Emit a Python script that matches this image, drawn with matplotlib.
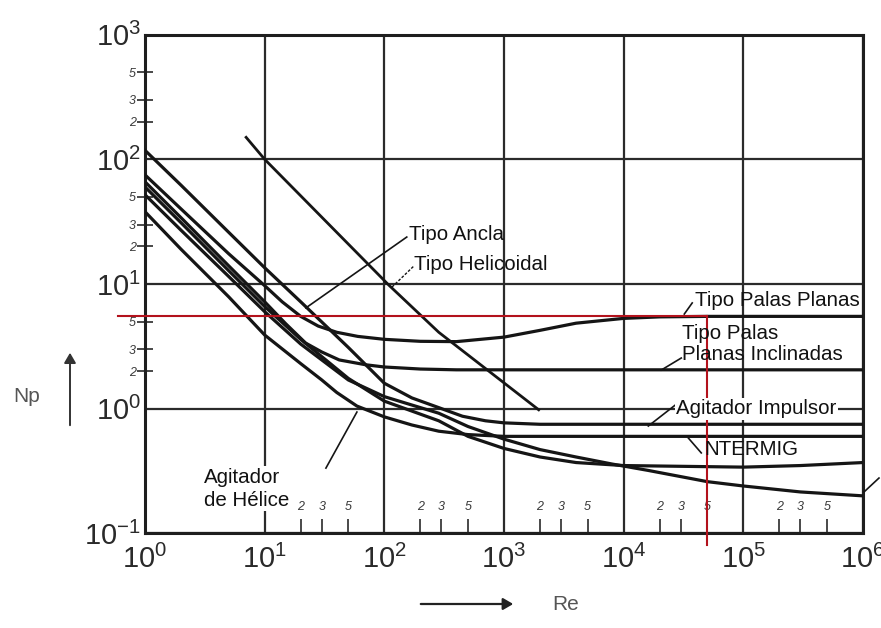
import matplotlib
matplotlib.use("Agg")
import matplotlib.pyplot as plt
from matplotlib import font_manager

# ---------------- data ----------------
# Power number Np versus Reynolds number Re for several impeller types
re_ancla = [1, 2, 5, 10, 20, 50, 100, 170, 285, 450, 700, 1000, 2000, 1e6]
np_ancla = [118, 62, 26, 13.5, 7.2, 3.1, 1.6, 1.22, 1.02, 0.87, 0.8, 0.77, 0.75, 0.75]

re_palas = [1, 2, 5, 10, 14, 20, 28, 40, 60, 100, 200, 400, 1000, 2000, 4000, 1e4, 2e4, 5e4, 1e6]
np_palas = [75, 40, 17.5, 9.7, 7.2, 5.5, 4.6, 4.1, 3.8, 3.6, 3.47, 3.45, 3.75, 4.25, 4.85,
            5.3, 5.45, 5.5, 5.5]

re_inclin = [1, 2, 5, 10, 15, 22, 30, 42, 70, 100, 200, 400, 1e6]
np_inclin = [66, 34, 14, 7.2, 4.8, 3.36, 2.85, 2.46, 2.25, 2.16, 2.08, 2.05, 2.05]

re_impulsor = [1, 2, 5, 10, 20, 30, 40, 59, 100, 170, 285, 500, 1000, 1e6]
np_impulsor = [38, 19, 7.9, 3.9, 2.3, 1.7, 1.35, 1.05, 0.86, 0.74, 0.66, 0.62, 0.6, 0.6]

re_intermig = [1, 2, 5, 10, 20, 50, 100, 285, 500, 1000, 2000, 4000, 1e4, 1e5, 3e5, 1e6]
np_intermig = [60, 31, 12.8, 6.6, 3.6, 1.75, 1.15, 0.8, 0.6, 0.48, 0.41, 0.37, 0.35, 0.34,
               0.35, 0.37]

re_helice = [1, 2, 5, 10, 20, 50, 100, 285, 500, 1000, 2000, 4000, 8000, 1.6e4, 5e4, 1e5,
             3e5, 1e6]
np_helice = [52, 27, 11.5, 6.0, 3.3, 1.7, 1.25, 0.92, 0.72, 0.57, 0.47, 0.41, 0.36, 0.32,
             0.26, 0.24, 0.215, 0.2]

re_helicoidal = [7, 10, 109, 285, 1950]
np_helicoidal = [150, 100, 9.8, 4.1, 0.98]

# reading of the operating point
re_read = 5e4
np_read = 5.5
re_read_start = 0.59
np_read_end = 0.081

# axes ticks
x_decades = [1, 10, 100, 1e3, 1e4, 1e5, 1e6]
x_labels = ["$10^{0}$", "$10^{1}$", "$10^{2}$", "$10^{3}$", "$10^{4}$", "$10^{5}$", "$10^{6}$"]
y_decades = [0.1, 1, 10, 100, 1000]
y_labels = ["$10^{-1}$", "$10^{0}$", "$10^{1}$", "$10^{2}$", "$10^{3}$"]
x_minor = [20, 30, 50, 200, 300, 500, 2e3, 3e3, 5e3, 2e4, 3e4, 5e4, 2e5, 3e5, 5e5]
x_minor_labels = ["2", "3", "5"] * 5
y_minor = [2, 3, 5, 20, 30, 50, 200, 300, 500]
y_minor_labels = ["2", "3", "5"] * 3

# ---------------- fonts ----------------
installed = {f.name for f in font_manager.fontManager.ttflist}
num_font = "Liberation Sans Narrow" if "Liberation Sans Narrow" in installed else "Liberation Sans"
plt.rcParams["font.family"] = ["Liberation Sans", "DejaVu Sans"]
plt.rcParams["mathtext.fontset"] = "custom"
plt.rcParams["mathtext.rm"] = num_font
plt.rcParams["mathtext.it"] = num_font
plt.rcParams["mathtext.bf"] = num_font

ink = "#151515"
grid_ink = "#2b2b2b"

fig = plt.figure(figsize=(8.81, 6.28), dpi=100)
ax = fig.add_axes([145 / 881, 1 - 533.4 / 628, 718 / 881, 498.8 / 628])
ax.set_xscale("log")
ax.set_yscale("log")
ax.set_xlim(1, 1e6)
ax.set_ylim(0.1, 1000)

for s in ax.spines.values():
    s.set_linewidth(2.2)
    s.set_color("#1e1e1e")

ax.grid(which="major", color=grid_ink, lw=1.6, zorder=1)
ax.set_axisbelow(True)

# major ticks: labels only
ax.set_xticks(x_decades)
ax.set_xticklabels(x_labels)
ax.set_yticks(y_decades)
ax.set_yticklabels(y_labels)
ax.tick_params(which="major", length=0, labelsize=21, colors="#2a2a2a")
ax.tick_params(axis="x", which="major", pad=8)
ax.tick_params(axis="y", which="major", pad=3)

# minor ticks with small hand-style digits
ax.set_xticks(x_minor, minor=True)
ax.set_xticklabels(x_minor_labels, minor=True, fontstyle="italic")
ax.set_yticks(y_minor, minor=True)
ax.set_yticklabels(y_minor_labels, minor=True, fontstyle="italic")
ax.tick_params(axis="x", which="minor", direction="in", length=10, width=1.3,
               pad=-23, labelsize=9, colors="#3a3a3a")
ax.tick_params(axis="y", which="minor", direction="inout", length=11, width=1.3,
               pad=1, labelsize=9, colors="#3a3a3a")

# curves
curves = [
    (re_ancla, np_ancla),
    (re_palas, np_palas),
    (re_inclin, np_inclin),
    (re_impulsor, np_impulsor),
    (re_intermig, np_intermig),
    (re_helice, np_helice),
]
for rx, ny in curves:
    ax.plot(rx, ny, color=ink, lw=2.3, solid_joinstyle="round", zorder=3)
ax.plot(re_helicoidal, np_helicoidal, color=ink, lw=2.0, zorder=3)

# reading lines
red = "#b3121c"
ax.plot([re_read_start, re_read], [np_read, np_read], color=red, lw=1.5,
        clip_on=False, zorder=4)
ax.plot([re_read, re_read], [np_read, np_read_end], color=red, lw=1.5,
        clip_on=False, zorder=4)

# leader lines
lead = dict(color=ink, lw=1.2, zorder=3, clip_on=False)
ax.plot([22.1, 154], [6.43, 23.8], **lead)
ax.plot([116, 176], [9.46, 13.9], color=ink, lw=1.0, ls=(0, (2, 1.2)), zorder=3)
ax.plot([32100, 37400], [5.74, 7.05], **lead)
ax.plot([20600, 30300], [2.04, 2.55], **lead)
ax.plot([16070, 27000], [0.726, 1.07], **lead)
ax.plot([34700, 44500], [0.582, 0.442], **lead)
ax.plot([32.5, 59], [0.334, 0.94], **lead)
ax.plot([1.02e6, 1.36e6], [0.215, 0.278], **lead)

# annotations
box = dict(facecolor="white", edgecolor="none", pad=1.0)
lab = dict(fontsize=14.8, color="#111111", zorder=5)
ax.text(162, 24.8, "Tipo Ancla", ha="left", va="center", **lab)
ax.text(178, 14.3, "Tipo Helicoidal", ha="left", va="center", **lab)
ax.text(9.4e5, 7.4, "Tipo Palas Planas", ha="right", va="center", **lab)
ax.text(3.05e4, 3.3, "Tipo Palas\nPlanas Inclinadas", ha="left", va="center",
        linespacing=1.12, **lab)
ax.text(2.75e4, 1.0, "Agitador Impulsor", ha="left", va="center", bbox=box, **lab)
ax.text(4.7e4, 0.47, "NTERMIG", ha="left", va="center", **lab)
ax.text(3.1, 0.228, "Agitador\nde Hélice", ha="left", va="center",
        linespacing=1.3, bbox=box, **lab)

# axis titles with arrows
fig.text(27 / 881, 1 - 397 / 628, "Np", fontsize=15, color="#555555",
         ha="center", va="center")
fig.text(566 / 881, 1 - 604 / 628, "Re", fontsize=15, color="#555555",
         ha="center", va="center")
fig.add_artist(matplotlib.patches.FancyArrowPatch(
    (70 / 881, 1 - 428 / 628), (70 / 881, 1 - 350 / 628), transform=fig.transFigure,
    arrowstyle="-|>,head_length=6,head_width=3.5", lw=1.4, color="#333333"))
fig.add_artist(matplotlib.patches.FancyArrowPatch(
    (418 / 881, 1 - 604 / 628), (516 / 881, 1 - 604 / 628), transform=fig.transFigure,
    arrowstyle="-|>,head_length=6,head_width=3.5", lw=1.6, color="#222222"))

fig.savefig("out.png", dpi=100, facecolor="white")
